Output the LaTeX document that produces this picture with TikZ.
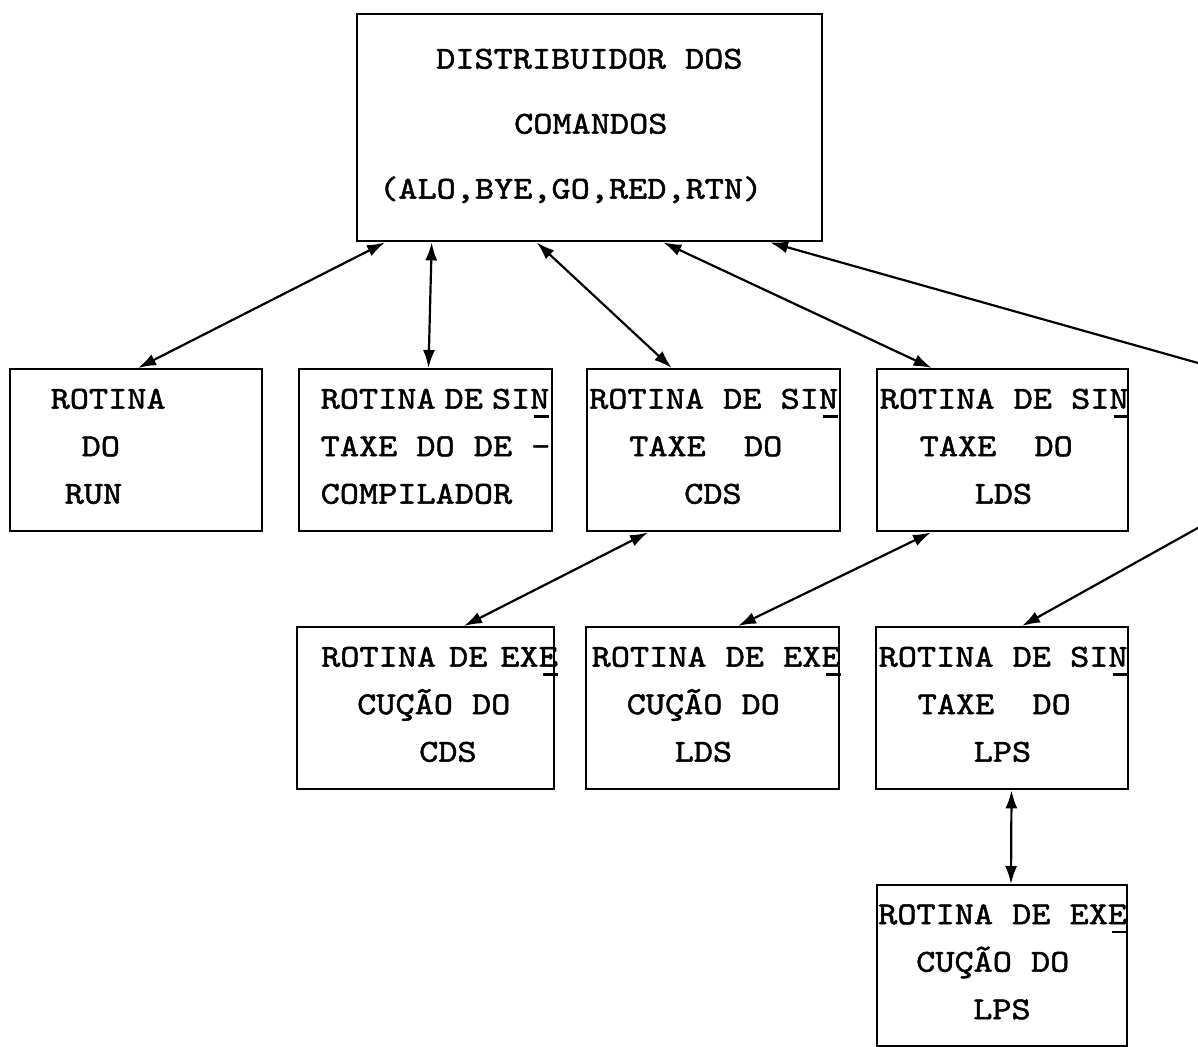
\documentclass[tikz,border=0pt]{standalone}
\usepackage{fontspec}
\setmonofont{lmmono10-regular.otf}[FakeStretch=1.14, FakeBold=1.5]
\usetikzlibrary{arrows.meta}
\newcommand\ind[1]{\hspace*{#1pt}}
\newcommand\gp{\kern19.1pt\relax}
\newcommand\sublin[1]{#1\llap{\rule[-9pt]{15pt}{2.5pt}}}
\newcommand\typer[1]{\ttfamily\fontsize{32}{#1}\selectfont}

\begin{document}
\begin{tikzpicture}[x=1pt,y=-1pt]
    \tikzset{rot/.style = {draw, line width=2.4pt, anchor=north west, text width=#1, minimum height=162pt,
        inner xsep=0pt, inner ysep=0pt, align=left, font=\typer{47.5},
        execute at end node={\rule[-8pt]{0pt}{8pt}}}}
    \tikzset{link/.style = {>={Latex[length=18pt,width=12pt]}, <->, line width=2.2pt}}
    \useasboundingbox (0,0) rectangle (1198,1046);
    % distributor
    \node[rot=465pt, minimum height=227pt, font=\typer{65}] (dist) at (356,13)
        {\ind{79}DISTRIBUIDOR\gp DOS\\\ind{157}COMANDOS\\\ind{22}(ALO,BYE,GO,RED,RTN)};
    % first row
    \node[rot=252.5pt] (run) at (8.5,368) {\ind{41}ROTINA\\\ind{72}DO\\\ind{55}RUN};
    \node[rot=253pt] (dec) at (297.5,368)
        {\ind{22}ROTINA\kern9pt DE\kern9pt SI\sublin{N}\\\ind{22}TAXE\gp DO\gp DE\gp -\\\ind{22}COMPILADOR};
    \node[rot=253pt] (cds) at (586,368)
        {\ind{2}ROTINA\gp DE\gp SI\sublin{N}\\\ind{42}TAXE\gp\gp DO\\\ind{97}CDS};
    \node[rot=251pt] (lds) at (875.5,368)
        {\ind{3}ROTINA\gp DE\gp SI\sublin{N}\\\ind{43}TAXE\gp\gp DO\\\ind{98}LDS};
    % second row
    \node[rot=257pt] (xcds) at (296,626)
        {\ind{24}ROTINA\kern13pt DE\kern13pt EX\sublin{E}\\\ind{60}CUÇÃO\gp DO\\\ind{122}CDS};
    \node[rot=253pt] (xlds) at (584.5,626)
        {\ind{6}ROTINA\gp DE\gp EX\sublin{E}\\\ind{41}CUÇÃO\gp DO\\\ind{89}LDS};
    \node[rot=252pt] (lps) at (874.5,626)
        {\ind{3}ROTINA\gp DE\gp SI\sublin{N}\\\ind{42}TAXE\gp\gp DO\\\ind{98}LPS};
    % third row
    \node[rot=250pt, minimum height=161pt] (xlps) at (876,884)
        {\ind{1}ROTINA\gp DE\gp EX\sublin{E}\\\ind{39}CUÇÃO\gp DO\\\ind{96}LPS};
    % off-page turn
    \coordinate (turn1) at (1230,372);
    \coordinate (turn2) at (1230,510);
    % edges
    \draw[link] ([xshift=29pt]dist.south west) -- ([xshift=129.5pt]run.north west);
    \draw[link] ([xshift=75.7pt]dist.south west) -- ([xshift=131pt]dec.north west);
    \draw[link] ([xshift=180.7pt]dist.south west) -- ([xshift=85.7pt]cds.north west);
    \draw[link] ([xshift=307.3pt]dist.south west) -- ([xshift=56.2pt]lds.north west);
    \draw[link] ([xshift=414pt]dist.south west) -- (turn1) -- (turn2) -- ([xshift=147.5pt]lps.north west);
    \draw[link] ([xshift=62pt]cds.south west) -- ([xshift=168pt]xcds.north west);
    \draw[link] ([xshift=55.5pt]lds.south west) -- ([xshift=153.5pt]xlds.north west);
    \draw[link] ([xshift=137pt]lps.south west) -- ([xshift=135pt]xlps.north west);
\end{tikzpicture}
\end{document}
